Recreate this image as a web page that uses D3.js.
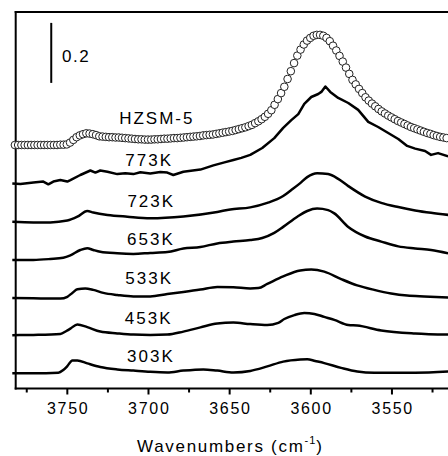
<!DOCTYPE html>
<html>
<head>
<meta charset="utf-8">
<script src="https://cdn.jsdelivr.net/npm/d3@7"></script>
<style>
body { margin: 0; background: #fff; }
svg { display: block; font-family: "Liberation Sans", Arial, Helvetica, sans-serif; }
</style>
</head>
<body>
<svg></svg>
<script>
/* jshint esversion: 6 */

// DATA
var seriesNames = ["HZSM-5", "773K", "723K", "653K", "533K", "453K", "303K"];

// HZSM-5 is sampled every 2 cm-1, from 3782 down to 3516
var hzsmWavenumbers = d3.range(3782, 3515, -2);
var hzsmAbs = [
	0.810, 0.810, 0.810, 0.810, 0.810, 0.810, 0.810, 0.810, 0.810, 0.810, 0.810, 0.810, 0.810, 0.810, 0.811, 0.811,
	0.812, 0.818, 0.827, 0.836, 0.842, 0.846, 0.849, 0.848, 0.846, 0.843,
	0.839, 0.838, 0.837, 0.836, 0.836, 0.835, 0.835, 0.834, 0.833, 0.832,
	0.831, 0.830, 0.829, 0.829, 0.828, 0.828, 0.828, 0.829, 0.829, 0.830,
	0.831, 0.831, 0.832, 0.833, 0.833, 0.834, 0.835, 0.836, 0.837, 0.838,
	0.839, 0.840, 0.842, 0.843, 0.844, 0.845, 0.847, 0.849, 0.851, 0.853,
	0.855, 0.857, 0.860, 0.863, 0.866, 0.869, 0.873, 0.877, 0.883, 0.889,
	0.896, 0.904, 0.914, 0.926, 0.944, 0.963, 0.983, 1.004, 1.030, 1.056,
	1.083, 1.108, 1.128, 1.145, 1.158, 1.167, 1.174, 1.177, 1.177, 1.174,
	1.167, 1.156, 1.141, 1.125, 1.107, 1.088, 1.068, 1.047, 1.027, 1.012,
	0.997, 0.983, 0.969, 0.958, 0.948, 0.939, 0.930, 0.922, 0.915, 0.908,
	0.902, 0.896, 0.890, 0.885, 0.880, 0.875, 0.870, 0.866, 0.862, 0.858,
	0.854, 0.850, 0.847, 0.843, 0.840, 0.837, 0.835, 0.833
];

// [wavenumber, absorbance (stacked as plotted)]
var s773 = [[3783.6,0.682],[3778.6,0.680],[3770.6,0.685],[3764.5,0.688],[3761.4,0.679],[3758.3,0.688],[3754.0,0.693],
	[3749.7,0.688],[3747.8,0.693],[3741.7,0.710],[3735.5,0.725],[3732.4,0.718],[3729.4,0.725],[3725.0,0.721],
	[3718.9,0.713],[3714.0,0.716],[3709.0,0.713],[3704.7,0.719],[3698.6,0.715],[3692.4,0.720],[3688.1,0.718],
	[3684.4,0.710],[3678.2,0.721],[3667.7,0.728],[3659.7,0.742],[3652.9,0.752],[3647.4,0.760],[3642.5,0.767],
	[3637.0,0.777],[3629.6,0.800],[3622.2,0.833],[3616.7,0.867],[3611.7,0.893],[3607.4,0.913],[3603.7,0.947],
	[3599.4,0.970],[3595.1,0.980],[3593.2,0.987],[3590.7,1.005],[3587.7,0.987],[3582.8,0.967],[3576.6,0.950],
	[3570.5,0.927],[3564.3,0.887],[3558.2,0.870],[3552.0,0.850],[3545.8,0.830],[3540.3,0.807],[3535.4,0.798],
	[3529.3,0.790],[3525.6,0.777],[3521.3,0.783],[3515.1,0.772]];

var s723 = [[3783.6,0.554],[3770.6,0.552],[3760.2,0.552],[3749.7,0.558],[3743.5,0.571],[3737.4,0.590],[3733.7,0.585],
	[3725.0,0.577],[3712.7,0.571],[3698.6,0.566],[3678.2,0.572],[3657.3,0.587],[3649.3,0.595],[3637.0,0.602],
	[3626.5,0.617],[3616.7,0.640],[3611.7,0.660],[3606.2,0.683],[3601.9,0.703],[3595.8,0.716],[3589.0,0.713],
	[3582.8,0.697],[3576.6,0.673],[3566.2,0.638],[3556.3,0.617],[3545.8,0.603],[3535.4,0.592],[3525.6,0.584],
	[3515.1,0.577]];

var s653 = [[3783.6,0.427],[3770.6,0.427],[3760.2,0.430],[3752.2,0.434],[3747.8,0.442],[3741.7,0.460],[3737.4,0.466],
	[3733.7,0.460],[3729.4,0.454],[3718.9,0.449],[3709.0,0.447],[3698.6,0.450],[3688.1,0.453],[3678.2,0.465],
	[3667.7,0.470],[3657.3,0.482],[3647.4,0.488],[3637.0,0.493],[3629.6,0.500],[3622.2,0.517],[3616.7,0.537],
	[3608.0,0.571],[3601.9,0.590],[3595.8,0.598],[3589.0,0.593],[3585.2,0.582],[3576.6,0.537],[3566.2,0.505],
	[3556.3,0.488],[3545.8,0.472],[3535.4,0.465],[3525.6,0.460],[3515.1,0.449]];

var s533 = [[3783.6,0.300],[3770.6,0.299],[3754.0,0.298],[3749.7,0.304],[3746.6,0.317],[3743.5,0.329],[3738.6,0.332],
	[3733.7,0.327],[3727.5,0.317],[3718.9,0.310],[3709.0,0.305],[3698.6,0.305],[3688.1,0.313],[3678.2,0.320],
	[3667.7,0.328],[3657.3,0.337],[3647.4,0.336],[3637.0,0.332],[3632.0,0.333],[3626.5,0.347],[3616.7,0.372],
	[3606.2,0.392],[3599.4,0.395],[3591.4,0.388],[3581.0,0.363],[3571.1,0.342],[3560.6,0.327],[3550.2,0.315],
	[3540.3,0.308],[3529.9,0.305],[3515.1,0.302]];

var s453 = [[3783.6,0.176],[3770.6,0.177],[3754.0,0.180],[3750.3,0.190],[3747.8,0.198],[3743.5,0.212],[3737.4,0.203],
	[3729.4,0.188],[3718.9,0.182],[3709.0,0.178],[3698.6,0.177],[3688.1,0.178],[3678.2,0.188],[3667.7,0.202],
	[3657.3,0.215],[3647.4,0.218],[3637.0,0.213],[3626.5,0.210],[3619.7,0.217],[3616.0,0.230],[3609.8,0.243],
	[3603.7,0.250],[3597.5,0.247],[3591.4,0.237],[3585.2,0.227],[3576.6,0.210],[3571.1,0.208],[3556.3,0.192],
	[3535.4,0.182],[3515.1,0.178]];

var s303 = [[3783.6,0.049],[3770.6,0.049],[3755.2,0.051],[3752.2,0.060],[3749.7,0.073],[3746.6,0.092],[3743.5,0.092],
	[3737.4,0.082],[3729.4,0.070],[3718.9,0.062],[3709.0,0.058],[3698.6,0.054],[3688.1,0.052],[3678.2,0.058],
	[3665.9,0.062],[3657.3,0.058],[3647.4,0.052],[3637.0,0.057],[3626.5,0.072],[3616.7,0.088],[3606.2,0.095],
	[3601.9,0.096],[3597.0,0.090],[3591.4,0.083],[3581.0,0.067],[3571.1,0.055],[3560.6,0.051],[3535.4,0.051],
	[3515.1,0.055]];

var lineSeries = [s773, s723, s653, s533, s453, s303];

var majorTicks = [3750, 3700, 3650, 3600, 3550];
var minorTicks = [3775, 3725, 3675, 3625, 3575, 3525];
var scaleBarValue = 0.2;

// LAYOUT (where the names and the scale bar sit, in data units)
var labelAnchors = [[3695.2,0.880],[3699.9,0.741],[3698.6,0.602],[3698.8,0.476],[3699.9,0.348],[3700.2,0.214],[3698.8,0.087]];
var scaleBarAt = [3759.6, 1.017];
var scaleLabelAt = [3753.0, 1.087];

// SVG
var width = 448;
var height = 456;
var plotLeft = 15.7;
var plotTop = 12;
var plotBottom = 388.5;
var font = "'Liberation Sans', Arial, Helvetica, sans-serif";

var svg = d3.select("svg")
.attr("width", width)
.attr("height", height);

// SCALES
var x = d3.scaleLinear().domain([3781.5, 3505]).range([plotLeft, 464.5]);
var y = d3.scaleLinear().domain([0, 1.2533]).range([388, 12]);

// FRAME
var frame = svg.append("g")
.attr("stroke", "#000")
.attr("stroke-width", 2)
.attr("stroke-linecap", "square");

frame.append("line").attr("x1", plotLeft).attr("x2", width + 2).attr("y1", plotTop).attr("y2", plotTop);
frame.append("line").attr("x1", plotLeft).attr("x2", plotLeft).attr("y1", plotTop).attr("y2", plotBottom);
frame.append("line").attr("x1", plotLeft).attr("x2", width + 2).attr("y1", plotBottom).attr("y2", plotBottom);

// AXIS
var gx = svg.append("g")
.attr("transform", "translate(0," + plotBottom + ")")
.call(d3.axisBottom(x).tickValues(majorTicks).tickSize(6).tickFormat(d3.format("d")));

gx.select(".domain").remove();
gx.attr("font-family", font).attr("font-size", 16);
gx.selectAll("line").attr("stroke-width", 2);
gx.selectAll("text")
.attr("y", 25)
.attr("dy", null)
.attr("dx", 0.8)
.attr("fill", "#000")
.attr("letter-spacing", "1.7px");

var gMinor = svg.append("g")
.attr("transform", "translate(0," + plotBottom + ")")
.call(d3.axisBottom(x).tickValues(minorTicks).tickSize(4).tickFormat(""));

gMinor.select(".domain").remove();
gMinor.selectAll("line").attr("stroke-width", 2);

var title = svg.append("text")
.attr("x", 230)
.attr("y", 451.5)
.attr("text-anchor", "middle")
.attr("font-family", font)
.attr("font-size", 17)
.attr("letter-spacing", "1.7px");

title.append("tspan").attr("letter-spacing", "1.7px").text("Wavenumbers (cm");
title.append("tspan").attr("letter-spacing", "1px").attr("font-size", 11).attr("dy", -8).text("-1");
title.append("tspan").attr("letter-spacing", "1px").attr("dy", 8).text(")");

// CURVES
var smoothLine = d3.line()
.x((d)=>x(d[0]))
.y((d)=>y(d[1]))
.curve(d3.curveMonotoneX);

var jaggedLine = d3.line()
.x((d)=>x(d[0]))
.y((d)=>y(d[1]));

svg.append("g")
.selectAll("path")
.data(lineSeries)
.enter()
.append("path")
.attr("d", (d, i)=> i === 0 ? jaggedLine(d) : smoothLine(d))
.attr("fill", "none")
.attr("stroke", "#000")
.attr("stroke-width", 2.5)
.attr("stroke-linejoin", "round");

// HZSM-5 open circles
svg.append("g")
.selectAll("circle")
.data(d3.zip(hzsmWavenumbers, hzsmAbs))
.enter()
.append("circle")
.attr("cx", (d)=>x(d[0]))
.attr("cy", (d)=>y(d[1]))
.attr("r", 3.8)
.attr("fill", "#fff")
.attr("stroke", "#222")
.attr("stroke-width", 1);

// NAMES
svg.append("g")
.selectAll("text")
.data(seriesNames)
.enter()
.append("text")
.attr("x", (d, i)=>x(labelAnchors[i][0]) + 1)
.attr("y", (d, i)=>y(labelAnchors[i][1]))
.attr("text-anchor", "middle")
.attr("font-family", font)
.attr("font-size", 17)
.attr("letter-spacing", "2px")
.text((d)=>d);

// SCALE BAR
svg.append("line")
.attr("x1", x(scaleBarAt[0]))
.attr("x2", x(scaleBarAt[0]))
.attr("y1", y(scaleBarAt[1]))
.attr("y2", y(scaleBarAt[1] + scaleBarValue))
.attr("stroke", "#000")
.attr("stroke-width", 2);

svg.append("text")
.attr("x", x(scaleLabelAt[0]))
.attr("y", y(scaleLabelAt[1]))
.attr("font-family", font)
.attr("font-size", 17)
.attr("letter-spacing", "1.5px")
.text(scaleBarValue);
</script>
</body>
</html>
